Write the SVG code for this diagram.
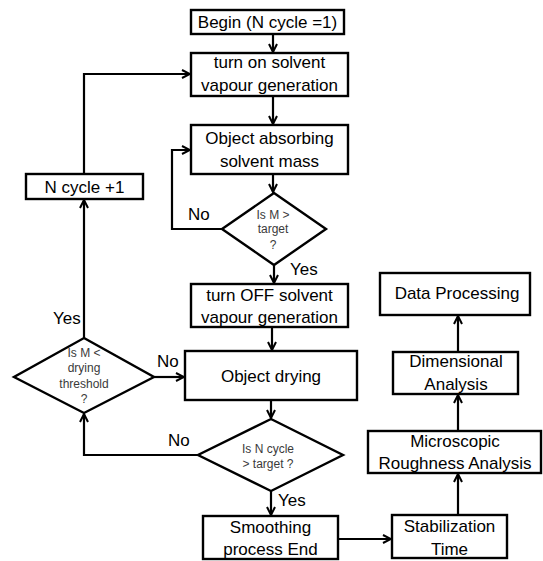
<svg xmlns="http://www.w3.org/2000/svg" width="543" height="561" viewBox="0 0 543 561">
<defs>
<style>
.box{fill:#fff;stroke:#000;stroke-width:2.4}
.t{font-family:"Liberation Sans",Arial,sans-serif;font-size:17px;fill:#000;text-anchor:middle}
.lbl{font-family:"Liberation Sans",Arial,sans-serif;font-size:17px;fill:#000}
.d{font-family:"Liberation Sans",Arial,sans-serif;font-size:12px;fill:#3a3a3a;text-anchor:middle}
.c{fill:none;stroke:#000;stroke-width:2.2}
</style>
<marker id="a" viewBox="0 0 10 10" refX="9" refY="5" markerWidth="10" markerHeight="10" markerUnits="userSpaceOnUse" orient="auto">
<path d="M1,1 L9,5 L1,9" fill="none" stroke="#000" stroke-width="2"/>
</marker>
</defs>
<rect width="543" height="561" fill="#fff"/>
<g id="connectors">
<path class="c" d="M273,34 V52" marker-end="url(#a)"/>
<path class="c" d="M273,96 V124" marker-end="url(#a)"/>
<path class="c" d="M273,174 V192" marker-end="url(#a)"/>
<path class="c" d="M222,229 H172 V150 H190" marker-end="url(#a)"/>
<path class="c" d="M274,265 V283" marker-end="url(#a)"/>
<path class="c" d="M272,327 V350" marker-end="url(#a)"/>
<path class="c" d="M271,400 V418" marker-end="url(#a)"/>
<path class="c" d="M198,455 H84 V414" marker-end="url(#a)"/>
<path class="c" d="M84,338 V200" marker-end="url(#a)"/>
<path class="c" d="M84,174 V74 H190" marker-end="url(#a)"/>
<path class="c" d="M154,377 H184" marker-end="url(#a)"/>
<path class="c" d="M271,491 V515" marker-end="url(#a)"/>
<path class="c" d="M338,539 H391" marker-end="url(#a)"/>
<path class="c" d="M458,515 V474" marker-end="url(#a)"/>
<path class="c" d="M458,431 V395" marker-end="url(#a)"/>
<path class="c" d="M458,352 V316" marker-end="url(#a)"/>
<text class="lbl" x="188" y="220">No</text>
<text class="lbl" x="290" y="275">Yes</text>
<text class="lbl" x="53" y="324">Yes</text>
<text class="lbl" x="157" y="366.5">No</text>
<text class="lbl" x="168" y="446">No</text>
<text class="lbl" x="278" y="506">Yes</text>
</g>
<g id="begin">
<rect class="box" x="191" y="10" width="153" height="24"/>
<text class="t" x="267.5" y="28">Begin (N cycle =1)</text>
</g>
<g id="turn-on">
<rect class="box" x="191" y="53" width="157" height="43"/>
<text class="t" x="269.5" y="67.5">turn on solvent</text>
<text class="t" x="269.5" y="90.5">vapour generation</text>
</g>
<g id="absorbing">
<rect class="box" x="191" y="125" width="157" height="49"/>
<text class="t" x="269.5" y="144">Object absorbing</text>
<text class="t" x="269.5" y="166.5">solvent mass</text>
</g>
<g id="decision-mass">
<polygon class="box" points="274,193 326,229 274,265 222,229"/>
<text class="d" x="273" y="218.5">Is M &gt;</text>
<text class="d" x="273" y="233">target</text>
<text class="d" x="273" y="249">?</text>
</g>
<g id="turn-off">
<rect class="box" x="191" y="284" width="157" height="43"/>
<text class="t" x="269.5" y="300.5">turn OFF solvent</text>
<text class="t" x="269.5" y="323">vapour generation</text>
</g>
<g id="n-cycle">
<rect class="box" x="26" y="174" width="117" height="25"/>
<text class="t" x="84.5" y="193">N cycle +1</text>
</g>
<g id="decision-drying">
<polygon class="box" points="84,338 154,377 84,413 14,377"/>
<text class="d" x="84" y="356.5">Is M &lt;</text>
<text class="d" x="84" y="372">drying</text>
<text class="d" x="84" y="387.5">threshold</text>
<text class="d" x="84" y="402.5">?</text>
</g>
<g id="drying">
<rect class="box" x="185" y="351" width="172" height="49"/>
<text class="t" x="271" y="381.5">Object drying</text>
</g>
<g id="decision-cycle">
<polygon class="box" points="271,419 343,455 271,491 198,455"/>
<text class="d" x="268" y="453">Is N cycle</text>
<text class="d" x="268" y="467.5">&gt; target ?</text>
</g>
<g id="smoothing-end">
<rect class="box" x="203" y="516" width="135" height="43"/>
<text class="t" x="270.5" y="532.5">Smoothing</text>
<text class="t" x="270.5" y="555">process End</text>
</g>
<g id="stabilization">
<rect class="box" x="392" y="515" width="115" height="43"/>
<text class="t" x="449.5" y="531.5">Stabilization</text>
<text class="t" x="449.5" y="555">Time</text>
</g>
<g id="microscopic">
<rect class="box" x="368" y="431" width="173" height="42"/>
<text class="t" x="455" y="446.5">Microscopic</text>
<text class="t" x="455" y="468.5">Roughness Analysis</text>
</g>
<g id="dimensional">
<rect class="box" x="393" y="352" width="125" height="42"/>
<text class="t" x="456" y="367">Dimensional</text>
<text class="t" x="456" y="390">Analysis</text>
</g>
<g id="data-processing">
<rect class="box" x="380" y="273" width="150" height="42"/>
<text class="t" x="457" y="299">Data Processing</text>
</g>
</svg>
